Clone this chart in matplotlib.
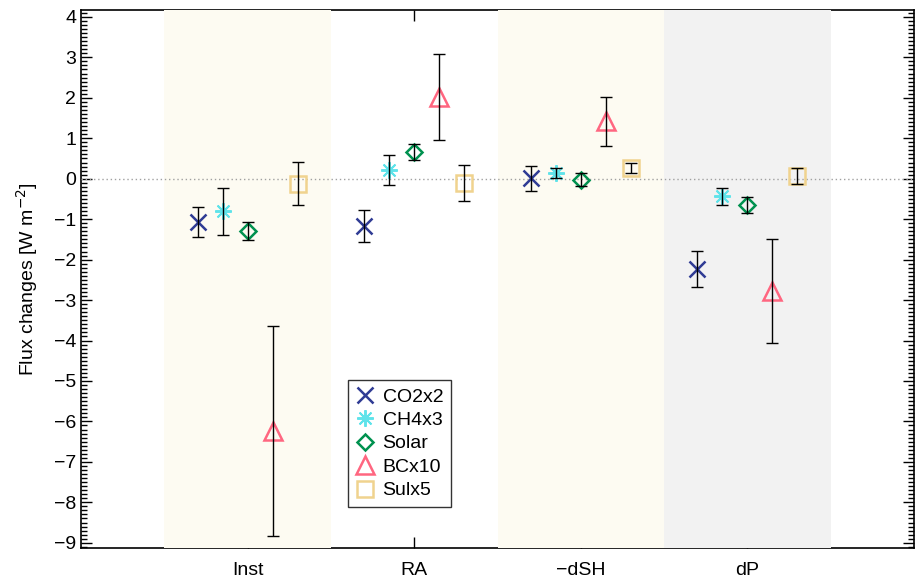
import matplotlib
matplotlib.use("Agg")
import matplotlib.pyplot as plt
import numpy as np

plt.rcParams['font.family'] = ['Liberation Sans', 'DejaVu Sans']

categories = ["Inst", "RA", "\u2212dSH", "dP"]
series = ["CO2x2", "CH4x3", "Solar", "BCx10", "Sulx5"]

# mean values per series, one per category
co2 = [-1.07, -1.17, 0.01, -2.23]
ch4 = [-0.81, 0.22, 0.14, -0.44]
solar = [-1.29, 0.66, -0.03, -0.65]
bc = [-6.24, 2.02, 1.42, -2.78]
sul = [-0.12, -0.10, 0.27, 0.06]

# error bar half-widths
co2_err = [0.38, 0.40, 0.31, 0.44]
ch4_err = [0.59, 0.37, 0.13, 0.21]
solar_err = [0.22, 0.21, 0.16, 0.20]
bc_err = [2.60, 1.06, 0.60, 1.29]
sul_err = [0.53, 0.44, 0.13, 0.20]

values = [co2, ch4, solar, bc, sul]
errors = [co2_err, ch4_err, solar_err, bc_err, sul_err]
colors = ["#2f3b94", "#5fe3ea", "#00914f", "#ff6680", "#f0d38e"]
markers = ["x", (8, 2, 0), "D", "^", "s"]
sizes = [12, 12, 8, 13, 12]
widths = [1.8, 1.4, 1.8, 1.8, 1.8]
offsets = [-0.3, -0.15, 0.0, 0.15, 0.3]

fig = plt.figure(figsize=(9.18, 5.79), dpi=100)
ax = fig.add_axes([0.0882, 0.0535, 0.9075, 0.9292])

x = np.arange(1, len(categories) + 1)

# background bands
band_colors = ["#fdfbf2", None, "#fdfbf2", "#f2f2f2"]
for xi, bcol in zip(x, band_colors):
    if bcol:
        ax.axvspan(xi - 0.5, xi + 0.5, color=bcol, zorder=3, lw=0)

ax.axhline(0, color="#a0a0a0", ls=(0, (1, 2)), lw=1, zorder=4)

handles = []
for vals, errs, c, m, s, w, off, name in zip(values, errors, colors, markers,
                                             sizes, widths, offsets, series):
    h, = ax.plot(x + off, vals, ls="none", marker=m, ms=s, mfc="none",
                 mec=c, mew=w, zorder=5, label=name)
    ax.errorbar(x + off, vals, yerr=errs, fmt="none", ecolor="black",
                elinewidth=1, capsize=4, capthick=1, zorder=6)
    handles.append(h)

ax.set_xlim(0, 5)
ax.set_ylim(-9.13, 4.17)
ax.set_xticks(x)
ax.set_xticklabels(categories)
ax.set_yticks(np.arange(-9, 5))
ax.set_yticklabels([str(v).replace("-", "\u2212") for v in range(-9, 5)])
ax.set_yticks(np.arange(-9.1, 4.15, 0.1), minor=True)
ax.tick_params(direction="in", which="both", top=True, right=True,
               labelsize=14, width=1)
ax.tick_params(which="major", length=8)
ax.tick_params(which="minor", length=4)
ax.tick_params(axis="x", pad=10)
ax.set_ylabel("Flux changes [W m$^{-2}$]", fontsize=14, labelpad=10)
for sp in ax.spines.values():
    sp.set_linewidth(1.2)

leg = ax.legend(handles=handles, loc="lower left",
                bbox_to_anchor=(0.32, 0.076), borderaxespad=0, fontsize=14,
                frameon=True, fancybox=False, edgecolor="black",
                handlelength=1.0, handletextpad=0.4, borderpad=0.4,
                labelspacing=0.3)
leg.get_frame().set_linewidth(1)
leg.set_zorder(10)

fig.savefig("out.png", dpi=100)
